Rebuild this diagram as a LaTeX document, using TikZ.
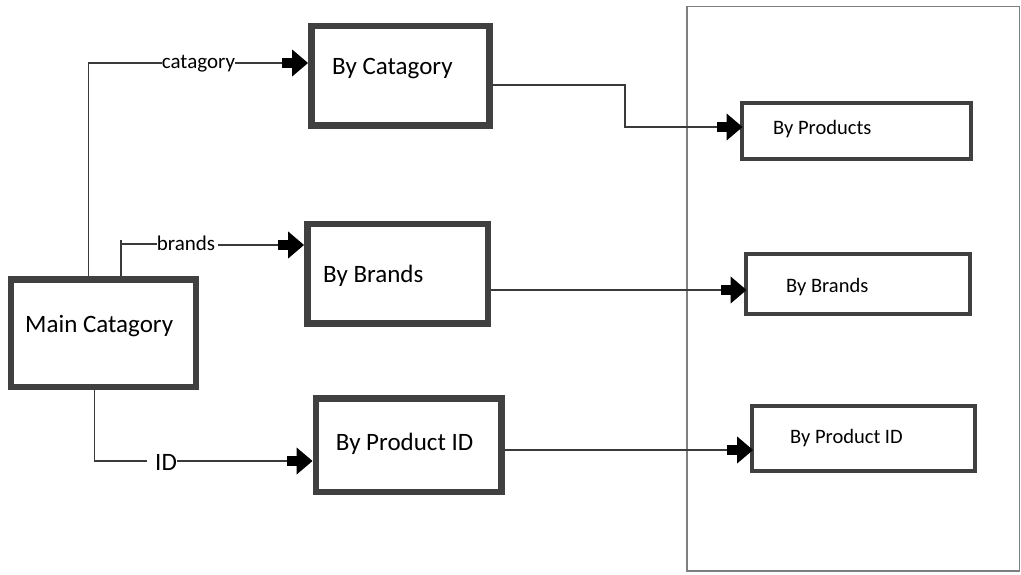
\documentclass[tikz,border=0pt]{standalone}
\usepackage{fontspec}
\setmainfont{Carlito}
\usetikzlibrary{arrows.meta}
\definecolor{boxgray}{HTML}{404040}
\definecolor{wiregray}{HTML}{3A3A3A}
\definecolor{panelgray}{HTML}{7F7F7F}
\tikzset{
  bigbox/.style={draw=boxgray, line width=6.5pt, inner sep=0pt},
  smallbox/.style={draw=boxgray, line width=4pt, inner sep=0pt},
  bigtext/.style={anchor=base west, inner sep=0pt, font=\fontsize{25}{30}\selectfont},
  smalltext/.style={anchor=base west, inner sep=0pt, font=\fontsize{20.5}{24}\selectfont},
  edgelabel/.style={anchor=base west, inner sep=0pt, font=\fontsize{21}{25}\selectfont},
  wire/.style={draw=wiregray, line width=1.1pt},
  arr/.style={wire, -{Rectangle[length=10pt,width=10pt,color=black]Triangle[length=16pt,width=27pt,color=black]}},
}
\begin{document}
\begin{tikzpicture}[x=1pt,y=-1pt]
\useasboundingbox (0,0) rectangle (1021,575);

% right-hand panel
\node[draw=panelgray, line width=1.5pt, inner sep=0pt,
      minimum width=332.5pt, minimum height=564.2pt] (panel) at (853,288.85) {};

% left column boxes
\node[bigbox, minimum width=185pt,   minimum height=107.5pt] (mc)  at (103.25,333) {};
\node[bigbox, minimum width=178pt,   minimum height=99.5pt]  (cat) at (400.25,76) {};
\node[bigbox, minimum width=180.5pt, minimum height=99pt]    (brd) at (397.5,273.75) {};
\node[bigbox, minimum width=185.5pt, minimum height=93.5pt]  (pid) at (408.5,445) {};

\node[bigtext] (mct)  at (25,332.7)    {Main Catagory};
\node[bigtext] (catt) at (332,75)      {By Catagory};
\node[bigtext] (brdt) at (323,282.7)   {By Brands};
\node[bigtext] (pidt) at (335.7,450.7) {By Product ID};

% boxes inside the panel
\node[smallbox, minimum width=229pt,   minimum height=56.3pt] (rp)  at (856,130.85) {};
\node[smallbox, minimum width=224.2pt, minimum height=59.7pt] (rb)  at (857.6,284.15) {};
\node[smallbox, minimum width=222.7pt, minimum height=64.4pt] (rid) at (863.35,438.5) {};

\node[smalltext] (rpt)  at (773,134.3) {By Products};
\node[smalltext] (rbt)  at (786,292.3) {By Brands};
\node[smalltext] (ridt) at (790,443.3) {By Product ID};

% edge labels
\node[edgelabel] (lcat) at (161.7,68.3)  {catagory};
\node[edgelabel] (lbrd) at (156.7,250.7) {brands};
\node[bigtext]   (lid)  at (155,470)     {ID};

% Main Catagory -> By Catagory
\coordinate (k1) at (88.5,63);
\draw[wire] (k1 |- mc.north) -- (k1) -- (k1 -| lcat.west);
\draw[arr] (k1 -| lcat.east) -- (k1 -| cat.west);

% Main Catagory -> By Brands
\coordinate (k2) at (121,244);
\coordinate (k2top) at (121,240);
\coordinate (k2b) at (0,245);
\draw[wire] (k2 |- mc.north) -- (k2top);
\draw[wire] (k2) -- (k2 -| lbrd.west);
\draw[arr] ([xshift=3pt]k2b -| lbrd.east) -- (k2b -| brd.west);

% Main Catagory -> By Product ID
\coordinate (k3) at (94.3,461);
\draw[wire] (k3 |- mc.south) -- (k3) -- ([xshift=-8pt]k3 -| lid.west);
\draw[arr] (k3 -| lid.east) -- (k3 -| pid.west);

% left column -> panel
\coordinate (j1) at (625,85);
\coordinate (j2) at (625,127);
\draw[arr] (j1 -| cat.east) -- (j1) -- (j2) -- ([xshift=3pt]j2 -| rp.west);

\coordinate (h5) at (0,290);
\draw[arr] (h5 -| brd.east) -- ([xshift=3pt]h5 -| rb.west);

\coordinate (h6) at (0,450);
\draw[arr] (h6 -| pid.east) -- ([xshift=3pt]h6 -| rid.west);
\end{tikzpicture}
\end{document}
